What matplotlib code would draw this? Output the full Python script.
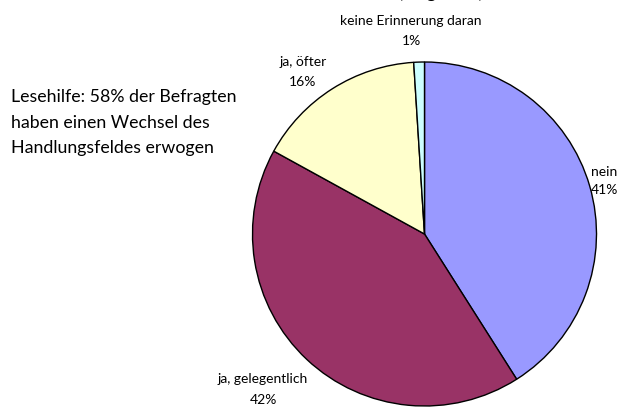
import matplotlib
matplotlib.use("Agg")
import matplotlib.pyplot as plt

plt.rcParams['font.family'] = ['Lato', 'DejaVu Sans']

categories = ["nein", "ja, gelegentlich", "ja, öfter", "keine Erinnerung daran"]
values = [41, 42, 16, 1]
colors = ["#9999FF", "#993366", "#FFFFCC", "#CCFFFF"]
title = "(Angaben)"
note_lines = ["Lesehilfe: 58% der Befragten", "haben einen Wechsel des",
              "Handlungsfeldes erwogen"]

W, H = 622, 408
fig = plt.figure(figsize=(W / 100, H / 100), dpi=100)
ax = fig.add_axes([0, 0, 1, 1])

cx, cy, r = 424.5, H - 234, 172
wedges, _ = ax.pie(values, colors=colors, startangle=90, counterclock=False,
                   center=(cx, cy), radius=r, frame=True,
                   wedgeprops=dict(edgecolor='black', linewidth=1.0))
ax.set_xlim(0, W)
ax.set_ylim(0, H)
ax.set_aspect('equal')
ax.axis('off')

# label positions (pixel coords from top): (x, y of first line, y of second line)
label_pos = [(604, 172, 190), (263, 379, 400), (303, 62, 82), (411, 21, 41)]
for cat, v, (x, y1, y2) in zip(categories, values, label_pos):
    ax.text(x, H - y1, cat, ha='center', va='center', fontsize=10, color='black')
    ax.text(x, H - y2, f"{v}%", ha='center', va='center', fontsize=10, color='black')

for i, line in enumerate(note_lines):
    ax.text(11, H - (97 + 25.5 * i), line, ha='left', va='center',
            fontsize=12.8, color='black')

ax.text(440, H + 2, title, ha='center', va='baseline', fontsize=14, color='black')

fig.savefig("out.png", dpi=100)
